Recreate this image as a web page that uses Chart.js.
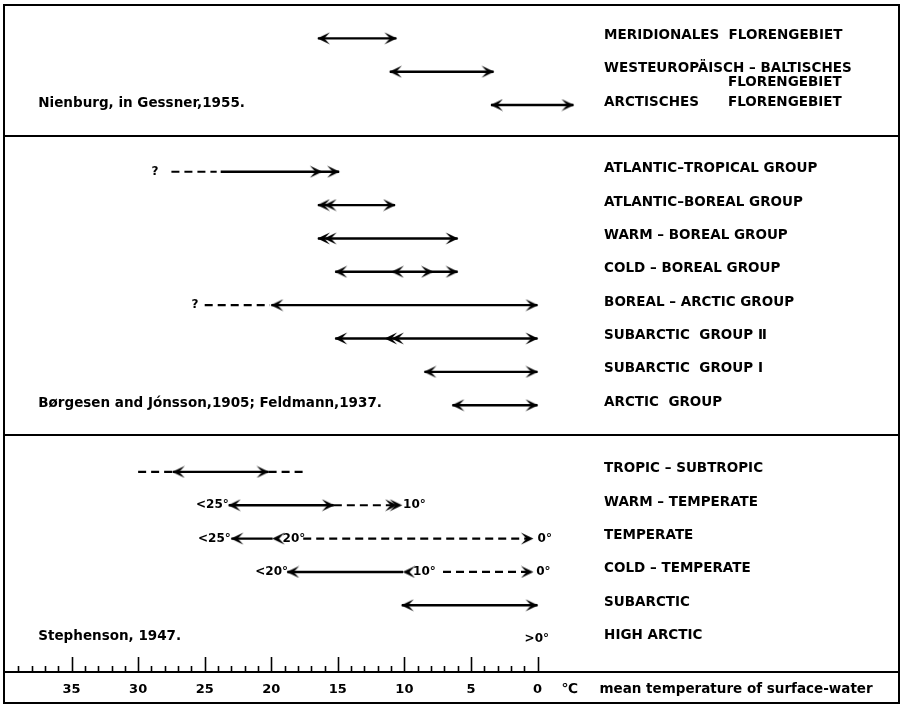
<!DOCTYPE html>
<html lang="en">
<head>
<meta charset="UTF-8">
<title>Temperature ranges of algal groups</title>
<style>
  body { margin: 0; padding: 0; background: #fff; }
  #wrap { width: 902px; height: 706px; }
</style>
</head>
<body>
<div id="wrap"><canvas id="rangeChart" width="902" height="706"></canvas></div>

<script src="https://cdn.jsdelivr.net/npm/chart.js"></script>
<script>
// one entry per group row, top to bottom ("\t" = second column, "\n" = next line)
const groupNames = [
  'MERIDIONALES  FLORENGEBIET',
  'WESTEUROPÄISCH – BALTISCHES\n\tFLORENGEBIET',
  'ARCTISCHES\tFLORENGEBIET',
  'ATLANTIC–TROPICAL GROUP',
  'ATLANTIC–BOREAL GROUP',
  'WARM – BOREAL GROUP',
  'COLD – BOREAL GROUP',
  'BOREAL – ARCTIC GROUP',
  'SUBARCTIC  GROUP Ⅱ',
  'SUBARCTIC  GROUP Ⅰ',
  'ARCTIC  GROUP',
  'TROPIC – SUBTROPIC',
  'WARM – TEMPERATE',
  'TEMPERATE',
  'COLD – TEMPERATE',
  'SUBARCTIC',
  'HIGH ARCTIC'
];
const groupRows = [1, 2, 3, 5, 6, 7, 8, 9, 10, 11, 12, 14, 15, 16, 17, 18, 19];

// solid range of each group, warm end and cold end in °C
const solidFrom = [16.5, 11.1, 3.5, 23.8, 16.5, 16.5, 15.2, 20.0, 15.2, 8.5, 6.4, 27.4, 23.2, 23.0, 18.8, 10.2, null];
const solidTo   = [10.6, 3.3, -2.7, 14.9, 10.7, 6.0, 6.0, 0, 0, 0, 0, 20.2, 15.3, 19.9, 10.1, 0, null];

// uncertain (dashed) extensions
const dashedRows = [5, 9, 14, 14, 15, 16, 17];
const dashedFrom = [27.5, 25.0, 30.0, 20.2, 15.3, 17.6, 7.1];
const dashedTo   = [24.1, 20.1, 27.4, 17.3, 10.8, 0.6, 0.6];

// arrow heads
const leftHeadRows = [1, 2, 3, 6, 6, 7, 7, 8, 8, 9, 10, 10, 10, 11, 12, 14, 15, 16, 16, 17, 17, 18];
const leftHeadAt   = [16.5, 11.1, 3.5, 16.5, 16.0, 16.5, 16.0, 15.2, 10.95, 20.0, 15.2, 11.45, 10.95, 8.5, 6.4, 27.4, 23.2, 23.0, 19.9, 18.8, 10.1, 10.2];
const rightHeadRows = [1, 2, 3, 5, 5, 6, 7, 8, 8, 9, 10, 11, 12, 14, 15, 15, 15, 16, 17, 18];
const rightHeadAt   = [10.6, 3.3, -2.7, 16.2, 14.9, 10.7, 6.0, 7.85, 6.0, 0, 0, 0, 0, 20.2, 15.3, 10.55, 10.2, 0.35, 0.35, 0];

// small notes along the arrows
const noteRows = [5, 9, 15, 15, 16, 16, 16, 17, 17, 17, 19];
const noteAt   = [29.0, 26.0, 25.65, 10.1, 25.5, 19.15, 0.0, 21.2, 9.35, 0.1, 0.97];
const noteText = ['?', '?', '<25°', '10°', '<25°', '20°', '0°', '<20°', '10°', '0°', '>0°'];

// sources, one per panel
const sourceRows = [3, 12, 19];
const sourceText = ['Nienburg, in Gessner,1955.', 'Børgesen and Jónsson,1905; Feldmann,1937.', 'Stephenson, 1947.'];

const panelBreaks = [3.92, 12.9];
const tickLabels = [35, 30, 25, 20, 15, 10, 5, 0];
const axisUnit = '℃';
const axisTitle = 'mean temperature of surface-water';

function makeHead(dir) {
  const c = document.createElement('canvas');
  c.width = 30;
  c.height = 13;
  const g = c.getContext('2d');
  g.fillStyle = '#000';
  g.beginPath();
  if (dir > 0) {
    g.moveTo(15.5, 6.5); g.lineTo(3, 0.5); g.lineTo(8.5, 6.5); g.lineTo(3, 12.5);
  } else {
    g.moveTo(14.5, 6.5); g.lineTo(27, 0.5); g.lineTo(21.5, 6.5); g.lineTo(27, 12.5);
  }
  g.closePath();
  g.fill();
  return c;
}

const datasets = [];
groupRows.forEach((row, i) => {
  if (solidFrom[i] === null) return;
  datasets.push({
    type: 'scatter', showLine: true,
    data: [{ x: solidFrom[i], y: row }, { x: solidTo[i], y: row }],
    borderColor: '#000', borderWidth: 2.4, pointRadius: 0
  });
});
dashedRows.forEach((row, i) => {
  datasets.push({
    type: 'scatter', showLine: true,
    data: [{ x: dashedFrom[i], y: row }, { x: dashedTo[i], y: row }],
    borderColor: '#000', borderWidth: 2.2, borderDash: [8, 5], pointRadius: 0
  });
});
datasets.push({
  type: 'scatter',
  data: leftHeadRows.map((row, i) => ({ x: leftHeadAt[i], y: row })),
  pointStyle: makeHead(-1), pointRadius: 4
});
datasets.push({
  type: 'scatter',
  data: rightHeadRows.map((row, i) => ({ x: rightHeadAt[i], y: row })),
  pointStyle: makeHead(1), pointRadius: 4
});

const decorations = {
  id: 'decorations',
  afterDraw(chart) {
    const { ctx, chartArea: a, scales: { x, y } } = chart;
    ctx.save();
    ctx.strokeStyle = '#000';
    ctx.fillStyle = '#000';

    // frame and panel separators
    ctx.lineWidth = 2;
    ctx.strokeRect(4, 5, 895, 698);
    panelBreaks.forEach(v => {
      const py = Math.round(y.getPixelForValue(v));
      ctx.beginPath(); ctx.moveTo(4, py); ctx.lineTo(899, py); ctx.stroke();
    });

    // degree ticks above the axis line
    ctx.lineWidth = 1.6;
    for (let t = 0; t <= 39; t++) {
      const px = Math.round(x.getPixelForValue(t)) + 0.5;
      const len = t % 5 === 0 ? 15 : 6;
      ctx.beginPath(); ctx.moveTo(px, a.bottom); ctx.lineTo(px, a.bottom - len); ctx.stroke();
    }

    ctx.textBaseline = 'middle';
    ctx.textAlign = 'left';

    // axis unit and title
    ctx.font = 'bold 13.5px "DejaVu Sans"';
    ctx.fillText(axisUnit, x.getPixelForValue(-1.8), 689);
    ctx.fillText(axisTitle, x.getPixelForValue(-4.65), 689);

    // sources
    sourceRows.forEach((row, i) => {
      ctx.fillText(sourceText[i], x.getPixelForValue(37.5), y.getPixelForValue(row) - 2);
    });

    // group names
    ctx.font = 'bold 13.5px "DejaVu Sans"';
    const col1 = x.getPixelForValue(-5);
    const col2 = x.getPixelForValue(-14.3);
    groupRows.forEach((row, i) => {
      const py = y.getPixelForValue(row) - 3;
      groupNames[i].split('\n').forEach((line, k) => {
        const parts = line.split('\t');
        if (parts[0]) ctx.fillText(parts[0], col1, py + k * 14);
        if (parts.length > 1) ctx.fillText(parts[1], col2, py + k * 14);
      });
    });

    // notes on arrows
    ctx.font = 'bold 12px "DejaVu Sans"';
    noteRows.forEach((row, i) => {
      ctx.fillText(noteText[i], x.getPixelForValue(noteAt[i]), y.getPixelForValue(row));
    });
    ctx.restore();
  }
};

new Chart(document.getElementById('rangeChart'), {
  type: 'scatter',
  data: { datasets },
  options: {
    responsive: false,
    animation: false,
    devicePixelRatio: 1,
    events: [],
    layout: { padding: { left: 3, right: 3, top: 4, bottom: 0 } },
    plugins: { legend: { display: false }, tooltip: { enabled: false } },
    scales: {
      x: {
        type: 'linear', min: -27, max: 40, reverse: true, position: 'bottom',
        grid: { display: false, drawTicks: false },
        border: { display: true, color: '#000', width: 2 },
        afterBuildTicks: scale => { scale.ticks = tickLabels.map(v => ({ value: v })); },
        afterFit: scale => { scale.height = 34; },
        ticks: {
          autoSkip: false, maxRotation: 0, padding: 10, color: '#000',
          font: { family: 'DejaVu Sans', size: 13, weight: 'bold' }
        }
      },
      y: { type: 'linear', min: 0, max: 20, reverse: true, display: false }
    }
  },
  plugins: [decorations]
});
</script>
</body>
</html>
